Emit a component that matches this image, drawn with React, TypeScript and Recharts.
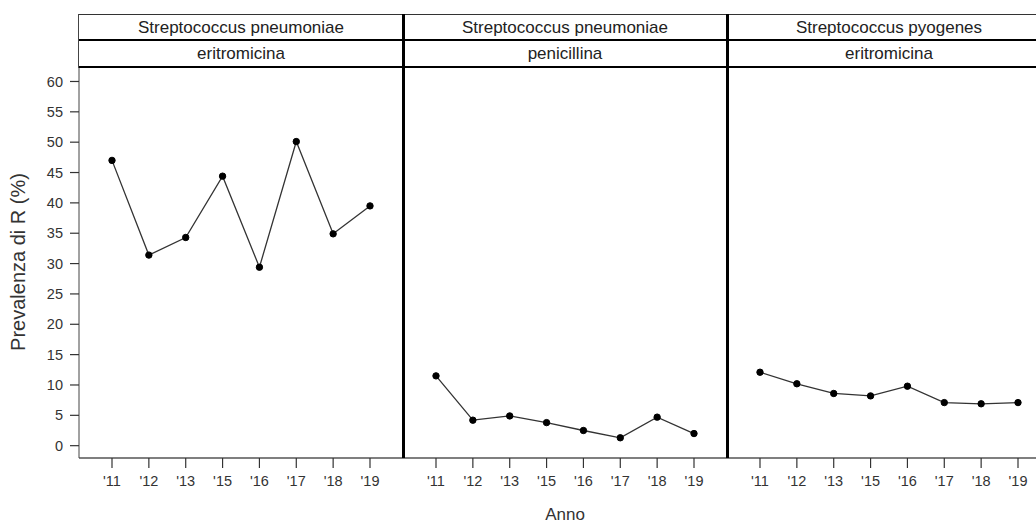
import React from 'react';
import { LineChart, Line, XAxis, YAxis, Label } from 'recharts';

const years = ["'11", "'12", "'13", "'15", "'16", "'17", "'18", "'19"];
const pneumoniaeEritromicina = [47.0, 31.4, 34.3, 44.4, 29.4, 50.1, 34.9, 39.5];
const pneumoniaePenicillina = [11.5, 4.2, 4.9, 3.8, 2.5, 1.3, 4.7, 2.0];
const pyogenesEritromicina = [12.1, 10.2, 8.6, 8.2, 9.8, 7.1, 6.9, 7.1];

const organismLabels = ['Streptococcus pneumoniae', 'Streptococcus pneumoniae', 'Streptococcus pyogenes'];
const drugLabels = ['eritromicina', 'penicillina', 'eritromicina'];
const yTicks = [0, 5, 10, 15, 20, 25, 30, 35, 40, 45, 50, 55, 60];

const FONT = '"Liberation Sans", Arial, sans-serif';
const PLOT_LEFT = 79;
const PANEL_W = 324;
const CHART_H = 523;
const PLOT_TOP = 68;
const X_AXIS_H = 65;
const Y_DOMAIN: [number, number] = [-2.03, 62.22];

const seriesList = [pneumoniaeEritromicina, pneumoniaePenicillina, pyogenesEritromicina];

function toRows(values: number[]) {
  return years.map((year, i) => ({ year, value: values[i] }));
}

function Panel({ index }: { index: number }) {
  const first = index === 0;
  const left = first ? 0 : PLOT_LEFT + index * PANEL_W;
  const width = first ? PLOT_LEFT + PANEL_W : PANEL_W;
  return (
    <div style={{ position: 'absolute', left, top: 0 }}>
      <LineChart
        width={width}
        height={CHART_H}
        data={toRows(seriesList[index])}
        margin={{ top: PLOT_TOP, right: 0, bottom: 0, left: 0 }}
      >
        <XAxis
          dataKey="year"
          type="category"
          padding={{ left: 33, right: 33 }}
          height={X_AXIS_H}
          interval={0}
          tickSize={10}
          tickMargin={8}
          axisLine={{ stroke: '#555', strokeWidth: 1.5 }}
          tickLine={{ stroke: '#333', strokeWidth: 1.2 }}
          tick={{ fontSize: 14.5, fill: '#333', fontFamily: FONT }}
        >
          {index === 1 && (
            <Label value="Anno" position="insideBottom" offset={3} style={{ fontSize: 17, fill: '#333', fontFamily: FONT }} />
          )}
        </XAxis>
        <YAxis
          hide={!first}
          width={PLOT_LEFT}
          type="number"
          domain={Y_DOMAIN}
          allowDataOverflow
          ticks={yTicks}
          interval={0}
          tickSize={9}
          tickMargin={7}
          axisLine={{ stroke: '#444', strokeWidth: 1 }}
          tickLine={{ stroke: '#333', strokeWidth: 1.2 }}
          tick={{ fontSize: 14.5, fill: '#333', fontFamily: FONT }}
        />
        <Line
          dataKey="value"
          type="linear"
          stroke="#333"
          strokeWidth={1.3}
          dot={{ r: 3.2, fill: '#000', stroke: '#000', strokeWidth: 1 }}
          isAnimationActive={false}
        />
      </LineChart>
    </div>
  );
}

export default function App() {
  const stripStyle: React.CSSProperties = {
    position: 'absolute',
    width: PANEL_W,
    textAlign: 'center',
    fontSize: 17,
    color: '#222',
    fontFamily: FONT,
    lineHeight: '25px',
  };
  return (
    <div
      style={{
        position: 'absolute',
        left: 0,
        top: 0,
        width: 1036,
        height: 523,
        overflow: 'hidden',
        background: '#fff',
        fontFamily: FONT,
      }}
    >
      {[0, 1, 2].map((i) => (
        <Panel key={i} index={i} />
      ))}

      {/* strip headers */}
      {[0, 1, 2].map((i) => (
        <React.Fragment key={'s' + i}>
          <div style={{ ...stripStyle, left: PLOT_LEFT + i * PANEL_W, top: 15 }}>{organismLabels[i]}</div>
          <div style={{ ...stripStyle, left: PLOT_LEFT + i * PANEL_W, top: 41 }}>{drugLabels[i]}</div>
        </React.Fragment>
      ))}

      {/* frame lines */}
      <div style={{ position: 'absolute', left: PLOT_LEFT - 1, top: 14, width: 1036, height: 1, background: '#333' }} />
      <div style={{ position: 'absolute', left: PLOT_LEFT - 1, top: 39, width: 1036, height: 2, background: '#000' }} />
      <div style={{ position: 'absolute', left: PLOT_LEFT - 1, top: 66, width: 1036, height: 2, background: '#000' }} />
      <div style={{ position: 'absolute', left: PLOT_LEFT - 1, top: 14, width: 1, height: 54, background: '#444' }} />
      {[1, 2].map((i) => (
        <div
          key={'d' + i}
          style={{ position: 'absolute', left: PLOT_LEFT + i * PANEL_W - 1.5, top: 14, width: 3, height: 444, background: '#000' }}
        />
      ))}

      {/* y axis title */}
      <div
        style={{
          position: 'absolute',
          left: 18,
          top: 262,
          transform: 'translate(-50%, -50%) rotate(-90deg)',
          whiteSpace: 'nowrap',
          fontSize: 20,
          color: '#333',
          fontFamily: FONT,
        }}
      >
        Prevalenza di R (%)
      </div>
    </div>
  );
}
